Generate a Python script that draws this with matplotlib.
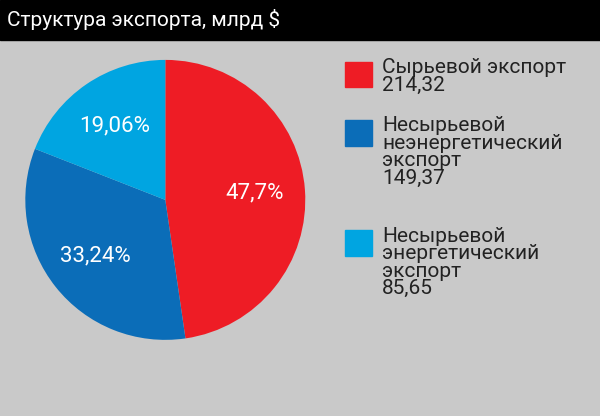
import matplotlib
matplotlib.use("Agg")
import matplotlib.pyplot as plt
from matplotlib.patches import Rectangle
import numpy as np

title = "Структура экспорта, млрд $"
categories = ["Сырьевой экспорт", "Несырьевой\nнеэнергетический\nэкспорт", "Несырьевой\nэнергетический\nэкспорт"]
amounts = ["214,32", "149,37", "85,65"]
shares = [47.7, 33.24, 19.06]
share_labels = ["47,7%", "33,24%", "19,06%"]
colors = ["#ee1c25", "#0b6db8", "#00a5e1"]
bg = "#c9c9c9"
font = "Roboto"

fig = plt.figure(figsize=(6, 4.16), dpi=100)
fig.patch.set_facecolor(bg)
fig.add_artist(Rectangle((0, 0.905), 1, 0.095, transform=fig.transFigure, color="black"))
fig.text(0.012, 0.952, title, color="white", fontsize=15, va="center", family=font)

ax = fig.add_axes([0.042, 0.183, 0.467, 0.673])
wedges, texts = ax.pie(shares, colors=colors, startangle=90, counterclock=False,
                       wedgeprops=dict(linewidth=0))
ax.set_xlim(-1, 1)
ax.set_ylim(-1, 1)
ax.set_aspect("equal")
for w, lab in zip(wedges, share_labels):
    ang = np.deg2rad((w.theta1 + w.theta2) / 2)
    ax.text(0.64 * np.cos(ang), 0.64 * np.sin(ang), lab, color="white",
            fontsize=16, ha="center", va="center", family=font)

ys = [0.82, 0.68, 0.415]
for y, c, cat, amt in zip(ys, colors, categories, amounts):
    fig.add_artist(Rectangle((0.575, y - 0.03), 0.045, 0.062, transform=fig.transFigure, color=c))
    fig.text(0.637, y + 0.04, cat + "\n" + amt, fontsize=15, va="top", ha="left",
             family=font, color="#222222", linespacing=0.9)

fig.savefig("out.png", dpi=100, facecolor=bg)
